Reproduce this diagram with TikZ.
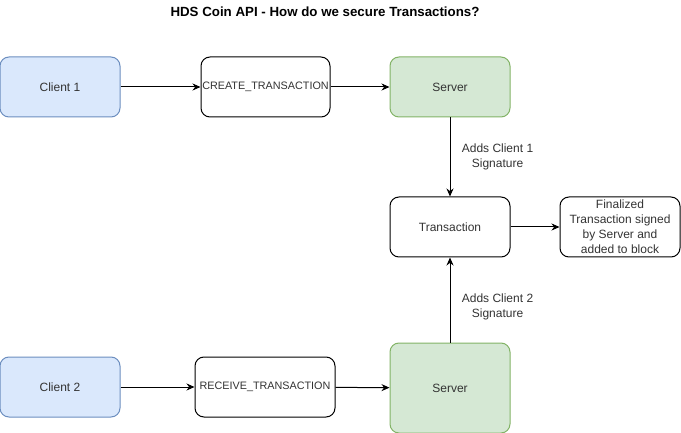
\documentclass[tikz,border=0pt]{standalone}
\usepackage{fontspec}
\setmainfont{Liberation Sans}
\usepackage{xcolor}
\usetikzlibrary{shapes,calc,positioning,arrows.meta}

\definecolor{clientfill}{HTML}{DAE8FC}
\definecolor{clientline}{HTML}{6C8EBF}
\definecolor{serverfill}{HTML}{D5E8D4}
\definecolor{serverline}{HTML}{82B366}
\definecolor{txt}{HTML}{333333}

\begin{document}
\begin{tikzpicture}[x=1pt,y=-1pt]
  \tikzset{ box/.style={draw,rounded corners=9pt,line width=1pt,inner sep=0pt,
      minimum width=120pt,minimum height=60pt,text=txt,font=\fontsize{12}{15}\selectfont},
    client/.style={box,fill=clientfill,draw=clientline},
    server/.style={box,fill=serverfill,draw=serverline},
    api/.style={box,font=\fontsize{10.8}{13}\selectfont},
    conn/.style={line width=1pt,-{Stealth[length=8pt,width=7pt]}},
    lbl/.style={align=center,text=txt,font=\fontsize{12}{15}\selectfont},
  }
  \useasboundingbox (0,0) rectangle (681,433);
  \node[font=\bfseries\fontsize{13.3}{15}\selectfont] (title) at (325,12) {HDS Coin API - How do we secure Transactions?};

  \node[client] (C1) at (60,87) {Client 1};
  \node[api,minimum width=129pt] (CT) at (265.5,87) {CREATE\_TRANSACTION};
  \node[server] (S1) at (450,87) {Server};

  \node[box] (T) at (450,227) {Transaction};
  \node[box,align=center] (F) at (620,227) {Finalized\\Transaction signed\\by Server and\\added to block};

  \node[client] (C2) at (60,387) {Client 2};
  \node[api,minimum width=140pt] (RT) at (265,387) {RECEIVE\_TRANSACTION};
  \node[server,minimum height=90pt] (S2) at (450,388) {Server};

  % the connections between the boxes
  \draw[conn] (C1) -- (CT);
  \draw[conn] (CT) -- (S1);
  \draw[conn] (S1) -- (T) node [midway, right=8pt, lbl] {Adds Client 1\\Signature};
  \draw[conn] (T) -- (F);
  \draw[conn] (C2) -- (RT);
  \draw[conn] (RT) -- (S2);
  \draw[conn] (S2) -- (T) node [midway, right=8pt, yshift=-7pt, lbl] {Adds Client 2\\Signature};
\end{tikzpicture}
\end{document}
